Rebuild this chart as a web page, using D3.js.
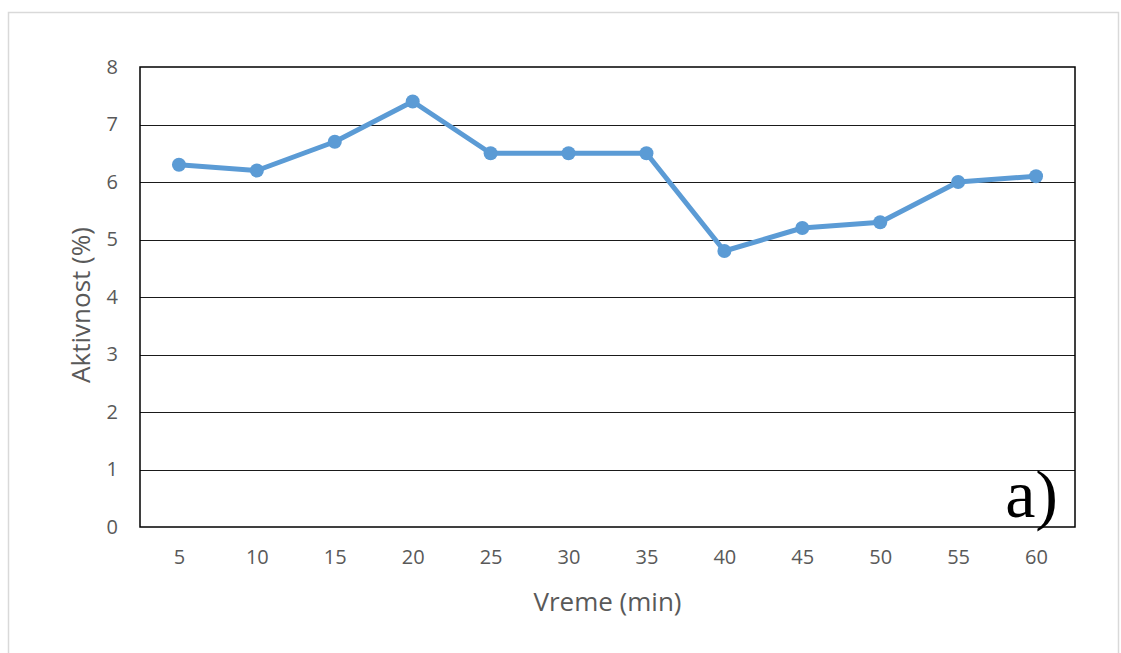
<!DOCTYPE html>
<html>
<head>
<meta charset="utf-8">
<script src="https://cdn.jsdelivr.net/npm/d3@7"></script>
<style>
  body { margin: 0; background: #fff; }
</style>
</head>
<body>
<div id="chart"></div>
<script>
const minutes = [5, 10, 15, 20, 25, 30, 35, 40, 45, 50, 55, 60];
const activity = [6.3, 6.2, 6.7, 7.4, 6.5, 6.5, 6.5, 4.8, 5.2, 5.3, 6.0, 6.1];
const yTicks = [0, 1, 2, 3, 4, 5, 6, 7, 8];

const width = 1121, height = 653;
const plotLeft = 140, plotRight = 1075, plotTop = 67, plotBottom = 527;
const sans = "'Open Sans', 'Liberation Sans', sans-serif";

const svg = d3.select("#chart").append("svg")
  .attr("width", width).attr("height", height);

// outer chart border
svg.append("rect")
  .attr("x", 8.5).attr("y", 12.5)
  .attr("width", 1110).attr("height", 660)
  .attr("fill", "none").attr("stroke", "#d9d9d9").attr("stroke-width", 1.5);

const x = d3.scalePoint().domain(minutes).range([plotLeft, plotRight]).padding(0.5);
const y = d3.scaleLinear().domain([0, 8]).range([plotBottom, plotTop]);

// gridlines
svg.append("g")
  .selectAll("line").data(yTicks.slice(1, -1))
  .join("line")
  .attr("x1", plotLeft).attr("x2", plotRight)
  .attr("y1", d => Math.round(y(d)) + 0.5).attr("y2", d => Math.round(y(d)) + 0.5)
  .attr("stroke", "#1a1a1a").attr("stroke-width", 1);

// plot frame
svg.append("rect")
  .attr("x", plotLeft).attr("y", plotTop)
  .attr("width", plotRight - plotLeft).attr("height", plotBottom - plotTop)
  .attr("fill", "none").attr("stroke", "#000").attr("stroke-width", 1.5);

// y axis labels
const yAxis = svg.append("g")
  .attr("transform", `translate(${plotLeft - 22},0)`)
  .call(d3.axisLeft(y).tickValues(yTicks).tickSize(0).tickPadding(0));
yAxis.select(".domain").remove();
yAxis.selectAll("text")
  .style("font-family", sans).style("font-size", "20px")
  .attr("fill", "#595959");

// x axis labels
const xAxis = svg.append("g")
  .attr("transform", `translate(0,${plotBottom + 23})`)
  .call(d3.axisBottom(x).tickSize(0).tickPadding(0));
xAxis.select(".domain").remove();
xAxis.selectAll("text")
  .style("font-family", sans).style("font-size", "20px")
  .attr("fill", "#595959");

// axis titles
svg.append("text")
  .attr("x", (plotLeft + plotRight) / 2).attr("y", 611)
  .attr("text-anchor", "middle")
  .style("font-family", sans).style("font-size", "26px")
  .attr("fill", "#595959")
  .text("Vreme (min)");

svg.append("text")
  .attr("transform", `translate(90,${(plotTop + plotBottom) / 2 + 8}) rotate(-90)`)
  .attr("text-anchor", "middle")
  .style("font-family", sans).style("font-size", "26px")
  .attr("fill", "#595959")
  .text("Aktivnost (%)");

// series
const line = d3.line()
  .x((d, i) => x(minutes[i]))
  .y(d => y(d));

svg.append("path")
  .datum(activity)
  .attr("fill", "none")
  .attr("stroke", "#5b9bd5")
  .attr("stroke-width", 5)
  .attr("stroke-linejoin", "round")
  .attr("d", line);

svg.append("g")
  .selectAll("circle").data(activity)
  .join("circle")
  .attr("cx", (d, i) => x(minutes[i]))
  .attr("cy", d => y(d))
  .attr("r", 7)
  .attr("fill", "#5b9bd5");

// panel label
svg.append("text")
  .attr("x", 1058).attr("y", 517)
  .attr("text-anchor", "end")
  .style("font-family", "'Liberation Serif', 'DejaVu Serif', serif")
  .style("font-size", "68px")
  .attr("fill", "#000")
  .text("a)");
</script>
</body>
</html>
